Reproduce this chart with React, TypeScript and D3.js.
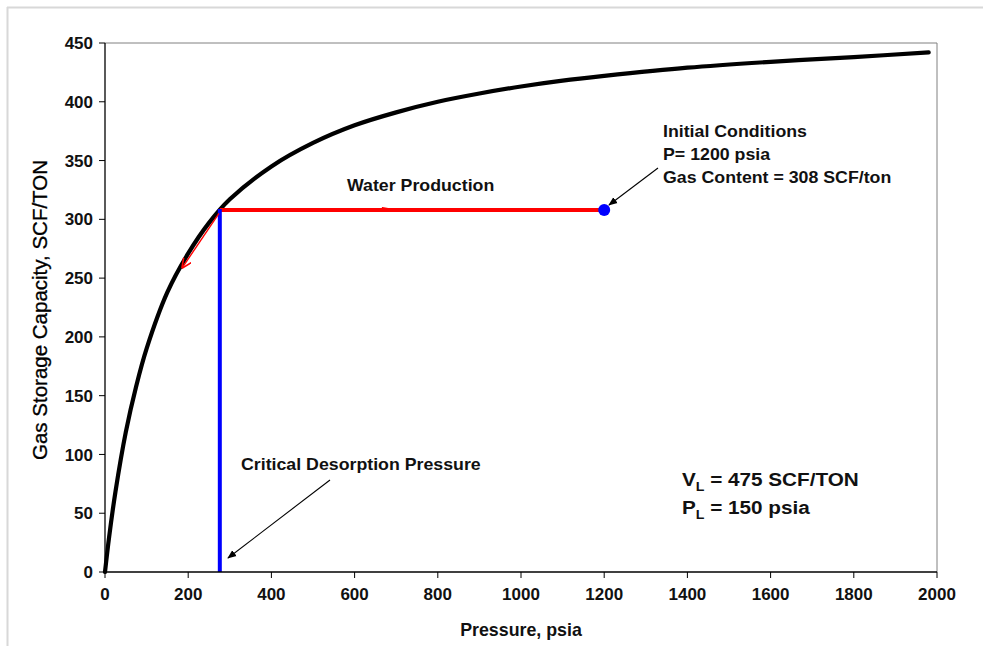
import React from "react";
import * as d3 from "d3";

// Langmuir isotherm (pressure psia, gas storage SCF/ton)
const pressures = [0, 10, 25, 50, 75, 100, 150, 200, 250, 300, 400, 500, 600, 700, 800, 900, 1000, 1100, 1200, 1400, 1600, 1800, 1980];
const capacities = [0, 30, 68, 119, 158, 190, 238, 271, 297, 317, 345, 365, 380, 391, 400, 407, 413, 418, 422, 429, 434, 438, 442];

const xTicks = [0, 200, 400, 600, 800, 1000, 1200, 1400, 1600, 1800, 2000];
const yTicks = [0, 50, 100, 150, 200, 250, 300, 350, 400, 450];

const initialPressure = 1200;
const initialContent = 308;
const criticalPressure = 276;
// red desorption arrow along the curve
const desorbStart = [274, 305];
const desorbEnd = [186, 259];

const W = 983;
const H = 646;
const FONT = "'Liberation Sans', Arial, Helvetica, sans-serif";
const SX = 1.09;

function Label({ x, y, size = 16.3, children }: { x: number; y: number; size?: number; children: React.ReactNode }) {
  return (
    <text transform={`translate(${x},${y}) scale(${SX},1)`} fontSize={size} fontWeight="bold" fill="#111">
      {children}
    </text>
  );
}

export default function App() {
  const x = d3.scaleLinear().domain([0, 2000]).range([105, 937]);
  const y = d3.scaleLinear().domain([0, 450]).range([572, 43]);
  const pts = pressures.map((p, i) => [p, capacities[i]] as [number, number]);
  const line = d3
    .line<[number, number]>()
    .x((d) => x(d[0]))
    .y((d) => y(d[1]))
    .curve(d3.curveCatmullRom.alpha(0.5));

  const x0 = x(0), x1 = x(2000), y0 = y(0), y1 = y(450);

  return (
    <svg width={W} height={H} style={{ position: "absolute", left: 0, top: 0, background: "#fff" }} fontFamily={FONT}>
      <defs>
        <marker id="blackHead" viewBox="0 0 10 10" refX="9" refY="5" markerWidth="9" markerHeight="9" orient="auto" markerUnits="userSpaceOnUse">
          <path d="M0,1 L10,5 L0,9 Z" fill="#000" />
        </marker>
        <marker id="redHead" viewBox="0 0 10 10" refX="9" refY="5" markerWidth="10" markerHeight="10" orient="auto" markerUnits="userSpaceOnUse">
          <path d="M0,0.5 L10,5 L0,9.5" fill="none" stroke="#ff0000" strokeWidth={1.6} />
        </marker>
      </defs>
      <rect x={0} y={0} width={W} height={H} fill="#fff" />
      {/* outer frame */}
      <line x1={7.5} y1={7} x2={7.5} y2={H} stroke="#d8d8d8" strokeWidth={2} />
      <line x1={7} y1={7.5} x2={W} y2={7.5} stroke="#d8d8d8" strokeWidth={2} />

      {/* plot border */}
      <line x1={x0} y1={y1} x2={x1} y2={y1} stroke="#808080" strokeWidth={1} />
      <line x1={x1} y1={y1} x2={x1} y2={y0} stroke="#808080" strokeWidth={1} />

      {/* curve */}
      <path d={line(pts) || ""} fill="none" stroke="#000" strokeWidth={4.2} strokeLinecap="round" />

      {/* water production line */}
      <line x1={x(criticalPressure)} y1={y(initialContent)} x2={x(initialPressure)} y2={y(initialContent)} stroke="#ff0000" strokeWidth={4} />
      <path d={`M${x(680)},${y(initialContent) - 1.5} l-6,-1`} stroke="#ff0000" strokeWidth={1} fill="none" />
      {/* critical desorption line */}
      <line x1={x(criticalPressure)} y1={y(initialContent) - 1} x2={x(criticalPressure)} y2={y0} stroke="#0000ff" strokeWidth={4} />
      {/* desorption arrow */}
      <line x1={x(desorbStart[0])} y1={y(desorbStart[1])} x2={x(desorbEnd[0])} y2={y(desorbEnd[1])} stroke="#ff0000" strokeWidth={1.4} markerEnd="url(#redHead)" />

      {/* initial point */}
      <circle cx={x(initialPressure)} cy={y(initialContent)} r={6} fill="#0000ff" />

      {/* axes */}
      <line x1={x0} y1={y1} x2={x0} y2={y0} stroke="#000" strokeWidth={1.3} />
      <line x1={x0} y1={y0} x2={x1} y2={y0} stroke="#000" strokeWidth={1.3} />
      {yTicks.map((t) => (
        <g key={"y" + t}>
          <line x1={x0 - 6} x2={x0} y1={y(t)} y2={y(t)} stroke="#000" strokeWidth={1} />
          <text x={x0 - 12} y={y(t)} dy="0.36em" textAnchor="end" fontSize={17} fontWeight="bold" fill="#111">{t}</text>
        </g>
      ))}
      {xTicks.map((t) => (
        <g key={"x" + t}>
          <line x1={x(t)} x2={x(t)} y1={y0} y2={y0 + 6} stroke="#000" strokeWidth={1} />
          <text x={x(t)} y={y0 + 28} textAnchor="middle" fontSize={17} fontWeight="bold" fill="#111">{t}</text>
        </g>
      ))}

      {/* axis titles */}
      <text x={521} y={636} textAnchor="middle" fontSize={17.8} fontWeight="bold" fill="#111">Pressure, psia</text>
      <text transform="translate(47,310) rotate(-90)" textAnchor="middle" fontSize={20.5} fill="#000" stroke="#000" strokeWidth={0.3}>Gas Storage Capacity, SCF/TON</text>

      {/* annotations */}
      <Label x={347} y={191}>Water Production</Label>
      <Label x={663} y={137}>Initial Conditions</Label>
      <Label x={663} y={160}>P= 1200 psia</Label>
      <Label x={663} y={183}>Gas Content = 308 SCF/ton</Label>
      <line x1={658} y1={168} x2={609} y2={205} stroke="#000" strokeWidth={1.1} markerEnd="url(#blackHead)" />

      <Label x={241} y={470}>Critical Desorption Pressure</Label>
      <line x1={330} y1={480} x2={228} y2={558} stroke="#000" strokeWidth={1.1} markerEnd="url(#blackHead)" />

      <Label x={682} y={486} size={19}>
        V<tspan fontSize={13} dy={5}>L</tspan><tspan dy={-5}> = 475 SCF/TON</tspan>
      </Label>
      <Label x={682} y={514} size={19}>
        P<tspan fontSize={13} dy={5}>L</tspan><tspan dy={-5}> = 150 psia</tspan>
      </Label>
    </svg>
  );
}
